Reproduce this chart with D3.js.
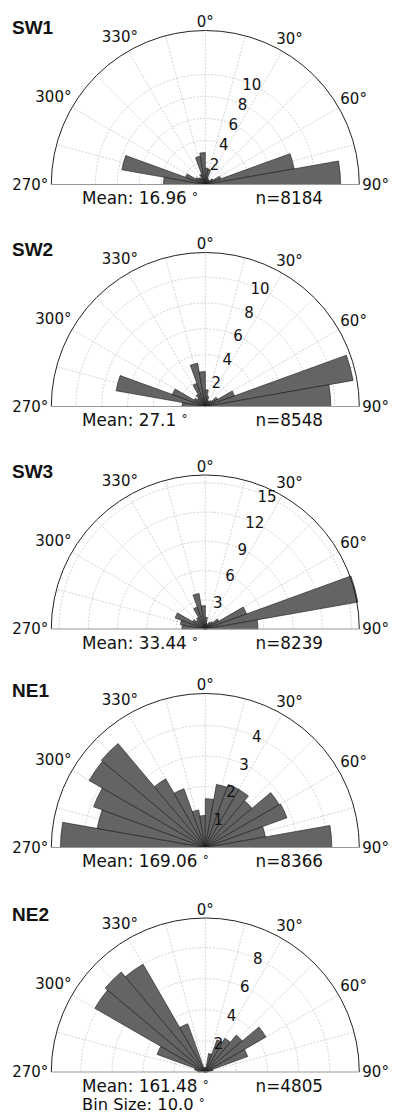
<!DOCTYPE html>
<html>
<head>
<meta charset="utf-8">
<script src="https://cdn.jsdelivr.net/npm/d3@7"></script>
<style>
  html, body { margin: 0; padding: 0; background: #ffffff; }
  svg { display: block; }
</style>
</head>
<body>
<div id="chart"></div>
<script>
// ---- data ----
const titles = ["SW1", "SW2", "SW3", "NE1", "NE2"];
const means = ["16.96", "27.1", "33.44", "169.06", "161.48"];
const counts = [8184, 8548, 8239, 8366, 4805];
// bin start angles (degrees, clockwise from North), 10° bins from -90 to 90
const binStarts = [-90, -80, -70, -60, -50, -40, -30, -20, -10, 0, 10, 20, 30, 40, 50, 60, 70, 80];
const binSize = 10;
// bar heights (percent) per bin
const sw1 = [3.8, 7.7, 1.9, 1.0, 0.8, 0.7, 1.0, 2.6, 2.9, 1.5, 1.4, 0.6, 0.5, 0.5, 0.8, 1.5, 8.2, 12.3];
const sw2 = [1.8, 7.0, 2.7, 1.0, 0.8, 1.1, 1.9, 3.4, 2.7, 1.3, 0.8, 0.5, 0.5, 0.6, 1.1, 2.4, 11.6, 9.7];
const sw3 = [2.4, 2.6, 3.3, 1.5, 1.2, 1.4, 2.4, 3.7, 2.4, 1.2, 0.6, 0.5, 0.8, 1.0, 1.6, 4.5, 15.9, 5.4];
const ne1 = [4.75, 3.6, 3.9, 4.4, 4.45, 2.6, 2.05, 1.25, 1.05, 1.6, 2.1, 2.2, 2.2, 2.0, 2.8, 2.85, 2.0, 4.15];
const ne2 = [0.5, 0.7, 3.3, 8.2, 8.4, 8.0, 3.3, 0.3, 0.2, 0.3, 1.2, 2.2, 2.5, 3.1, 4.5, 2.9, 0.5, 0.2];
const seriesList = [sw1, sw2, sw3, ne1, ne2];
// radial tick values and radial axis maximum per panel
const rTicks = [[2, 4, 6, 8, 10], [2, 4, 6, 8, 10], [3, 6, 9, 12, 15], [1, 2, 3, 4], [2, 4, 6, 8]];
const rMaxes = [14, 11.9, 15.8, 5.05, 9.9];
// angular tick labels
const thetaTicks = [-90, -60, -30, 0, 30, 60, 90];
const thetaLabels = ["270°", "300°", "330°", "0°", "30°", "60°", "90°"];
const gridAngles = d3.range(-90, 91, 15);

// ---- layout ----
const W = 394, H = 1113;
const cx = 205.3, R = 154;
const centersY = [184.5, 406.5, 629, 847.5, 1072];
const deg = Math.PI / 180;

const svg = d3.select("#chart").append("svg")
  .attr("width", W).attr("height", H)
  .attr("viewBox", `0 0 ${W} ${H}`);

svg.append("rect").attr("width", W).attr("height", H).attr("fill", "#ffffff");

const FONT = "DejaVu Sans, Verdana, sans-serif";

seriesList.forEach((vals, i) => {
  const cy = centersY[i];
  const r = d3.scaleLinear().domain([0, rMaxes[i]]).range([0, R]);
  const g = svg.append("g").attr("transform", `translate(${cx},${cy})`);

  // grid circles (half)
  g.selectAll("path.gc").data(rTicks[i]).join("path")
    .attr("class", "gc")
    .attr("d", d => {
      const p = d3.path();
      p.arc(0, 0, r(d), Math.PI, 2 * Math.PI);
      return p.toString();
    })
    .attr("fill", "none").attr("stroke", "#c8c8c8").attr("stroke-width", 0.8)
    .attr("stroke-dasharray", "2,1.5");

  // radial grid lines
  g.selectAll("line.gl").data(gridAngles.filter(a => a > -90 && a < 90)).join("line")
    .attr("class", "gl")
    .attr("x1", 0).attr("y1", 0)
    .attr("x2", a => R * Math.sin(a * deg))
    .attr("y2", a => -R * Math.cos(a * deg))
    .attr("stroke", "#c8c8c8").attr("stroke-width", 0.8)
    .attr("stroke-dasharray", "2,1.5");

  // bars
  const arc = d3.arc().innerRadius(0);
  g.selectAll("path.bar").data(binStarts.map((b, k) => ({ b, v: vals[k] }))).join("path")
    .attr("class", "bar")
    .attr("d", d => arc({ outerRadius: r(d.v), startAngle: d.b * deg, endAngle: (d.b + binSize) * deg }))
    .attr("fill", "#646464").attr("stroke", "#1a1a1a").attr("stroke-width", 0.6);

  // outer arc spine
  const sp = d3.path();
  sp.arc(0, 0, R, Math.PI, 2 * Math.PI);
  g.append("path").attr("d", sp.toString()).attr("fill", "none")
    .attr("stroke", "#222").attr("stroke-width", 1);
  // bottom line
  g.append("line").attr("x1", -R).attr("x2", R).attr("y1", 0).attr("y2", 0)
    .attr("stroke", "#999").attr("stroke-width", 1.2);

  // radial tick labels at ~25°
  const la = 25 * deg;
  g.selectAll("text.rl").data(rTicks[i]).join("text")
    .attr("class", "rl")
    .attr("x", d => r(d) * Math.sin(la))
    .attr("y", d => -r(d) * Math.cos(la))
    .attr("text-anchor", "middle").attr("dominant-baseline", "central")
    .attr("font-family", FONT).attr("font-size", 15).attr("fill", "#111")
    .text(d => d);

  // angular labels
  thetaTicks.forEach((t, k) => {
    const txt = g.append("text")
      .attr("font-family", FONT).attr("font-size", 15).attr("fill", "#111")
      .attr("text-anchor", "middle").attr("dominant-baseline", "central")
      .text(thetaLabels[k]);
    const w = txt.node().getComputedTextLength();
    const h = 11;
    const s = Math.sin(t * deg), c = Math.cos(t * deg);
    const dist = R + 3 + Math.abs(s) * w / 2 + Math.abs(c) * h / 2;
    txt.attr("x", dist * s).attr("y", -dist * c);
  });

  // title
  svg.append("text").attr("x", 12).attr("y", cy - 151)
    .attr("font-family", "Liberation Sans, Arial, sans-serif").attr("font-weight", "bold")
    .attr("font-size", 19).attr("fill", "#111").text(titles[i]);

  // mean and n
  const mt = svg.append("text").attr("x", 82).attr("y", cy + 19.5)
    .attr("font-family", FONT).attr("font-size", 16.8).attr("fill", "#111");
  mt.append("tspan").text("Mean: " + means[i] + " ");
  mt.append("tspan").attr("font-size", 12).attr("dy", -3).text("°");
  svg.append("text").attr("x", 323).attr("y", cy + 19.5).attr("text-anchor", "end")
    .attr("font-family", FONT).attr("font-size", 16.8).attr("fill", "#111")
    .text("n=" + counts[i]);

  if (i === seriesList.length - 1) {
    const bt = svg.append("text").attr("x", 82).attr("y", cy + 37.5)
      .attr("font-family", FONT).attr("font-size", 16.3).attr("fill", "#111");
    bt.append("tspan").text("Bin Size: " + binSize.toFixed(1) + " ");
    bt.append("tspan").attr("font-size", 12).attr("dy", -3).text("°");
  }
});
</script>
</body>
</html>
